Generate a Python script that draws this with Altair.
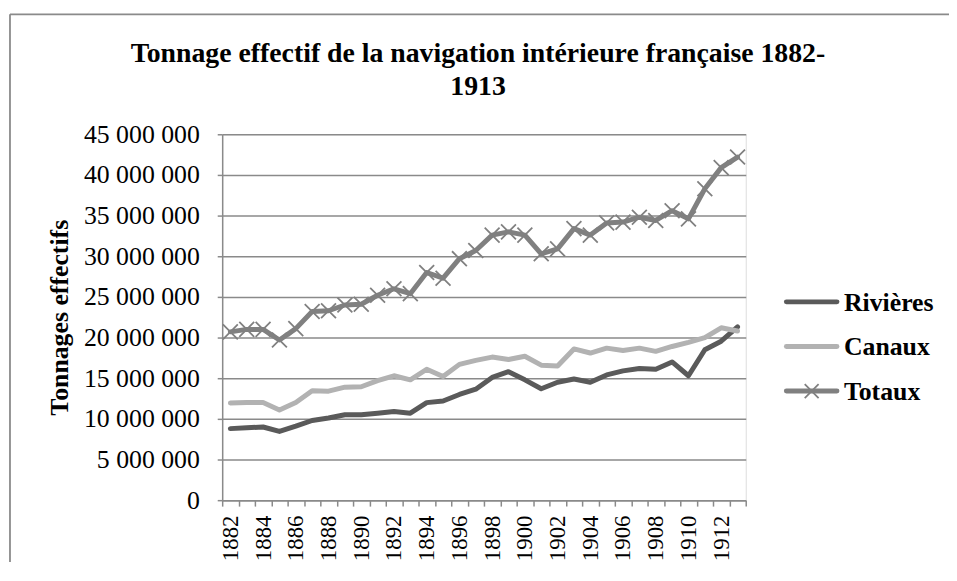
import altair as alt
import pandas as pd

years = list(range(1882, 1914))
rivieres = [8.8, 8.9, 9.0, 8.45, 9.1, 9.8, 10.1, 10.5, 10.5, 10.7, 10.9, 10.7, 12.0, 12.2, 13.0, 13.65,
            15.1, 15.8, 14.8, 13.7, 14.5, 14.9, 14.5, 15.4, 15.9, 16.2, 16.1, 17.0, 15.3, 18.5, 19.55, 21.3]
canaux = [11.95, 12.0, 12.0, 11.1, 12.0, 13.45, 13.4, 13.9, 13.95, 14.7, 15.3, 14.8, 16.1, 15.2, 16.7, 17.2,
          17.6, 17.3, 17.7, 16.6, 16.5, 18.6, 18.1, 18.7, 18.4, 18.7, 18.3, 18.9, 19.4, 20.0, 21.2, 20.8]
totaux = [20.7, 21.0, 21.0, 19.7, 21.1, 23.2, 23.3, 24.0, 24.1, 25.2, 26.0, 25.4, 28.0, 27.3, 29.7, 30.7,
          32.6, 33.0, 32.6, 30.3, 30.9, 33.4, 32.6, 34.1, 34.2, 34.8, 34.4, 35.6, 34.6, 38.3, 40.9, 42.2]
series = ["Rivières", "Canaux", "Totaux"]
colors = ["#5a5a5a", "#b2b2b2", "#808080"]
y_ticks = [0, 5e6, 10e6, 15e6, 20e6, 25e6, 30e6, 35e6, 40e6, 45e6]
title_lines = ["Tonnage effectif de la navigation intérieure française 1882-", "1913"]
y_title = "Tonnages effectifs"

rows = []
for name, vals in zip(series, [rivieres, canaux, totaux]):
    for yr, v in zip(years, vals):
        rows.append({"Année": yr, "Série": name, "Tonnage": v * 1e6, "ordre": series.index(name)})
df = pd.DataFrame(rows)
leg_df = pd.DataFrame({"Série": series})

FONT = "Liberation Serif"
GRAY = "#8a8a8a"
X_PATH = "M-1,-1L1,1M-1,1L1,-1"

color_scale = alt.Scale(domain=series, range=colors)

x_enc = alt.X("Année:O", scale=alt.Scale(type="band", paddingInner=0, paddingOuter=0),
              axis=alt.Axis(title=None, labelAngle=-90, labelFontSize=23, labelFont=FONT,
                            labelColor="black", labelPadding=9, tickBand="extent", tickSize=6,
                            tickColor=GRAY, domainColor=GRAY, domainWidth=1.5, tickWidth=1.5,
                            grid=False, labelOverlap=False,
                            labelExpr="datum.value % 2 === 0 ? datum.label : ''"))
y_enc = alt.Y("Tonnage:Q", scale=alt.Scale(domain=[0, 45e6], nice=False),
              axis=alt.Axis(values=y_ticks, title=y_title, titleFont=FONT, titleFontSize=26,
                            titleFontWeight="bold", titleColor="black", titleAngle=-90,
                            titleX=-164, titleY=184.5, titleAlign="center", titleBaseline="middle",
                            labelFont=FONT, labelFontSize=26, labelColor="black", labelPadding=18,
                            labelExpr="replace(format(datum.value, ','), regexp(',', 'g'), ' ')",
                            tickSize=5, tickColor=GRAY, domainColor=GRAY, domainWidth=1.5,
                            tickWidth=1.5, gridColor=GRAY, gridWidth=1.5))

base = alt.Chart(df)
lines = base.mark_line(strokeWidth=5, strokeCap="round", strokeJoin="round").encode(
    x=x_enc, y=y_enc,
    color=alt.Color("Série:N", scale=color_scale, sort=series, legend=None),
    order=alt.Order("ordre:Q"),
    detail="Série:N")
pts = base.transform_filter(alt.datum["Série"] == "Totaux").mark_point(
    shape=X_PATH, size=225, filled=False, strokeWidth=1.8, opacity=1).encode(
    x=x_enc, y=y_enc, color=alt.Color("Série:N", scale=color_scale, legend=None))

one = pd.DataFrame({"k": [0]})
border_top = alt.Chart(one).mark_rule(color="#8a8a8a", strokeWidth=1.8).encode(
    x=alt.value(-214), x2=alt.value(733), y=alt.value(-121))
border_left = alt.Chart(one).mark_rule(color="#8a8a8a", strokeWidth=1.8).encode(
    x=alt.value(-214), y=alt.value(-121), y2=alt.value(700))
title = alt.Chart(one).mark_text(
    text=title_lines, font=FONT, fontSize=28, fontWeight="bold", color="black",
    align="center", baseline="alphabetic", lineHeight=33).encode(
    x=alt.value(258), y=alt.value(-73))

main = alt.layer(border_top, border_left, title, lines, pts)

# manual legend
leg_y = alt.Y("Série:N", sort=series, axis=None,
              scale=alt.Scale(type="point", domain=series, range=[169, 259], padding=0))
leg_base = alt.Chart(leg_df)
leg_lines = leg_base.mark_rule(strokeWidth=5, strokeCap="round").encode(
    x=alt.value(569), x2=alt.value(620), y=leg_y,
    color=alt.Color("Série:N", scale=color_scale, legend=None))
leg_x = leg_base.transform_filter(alt.datum["Série"] == "Totaux").mark_point(
    shape=X_PATH, size=196, filled=False, strokeWidth=1.8, opacity=1).encode(
    x=alt.value(594.5), y=leg_y, color=alt.Color("Série:N", scale=color_scale, legend=None))
leg_text = leg_base.mark_text(align="left", baseline="middle", font=FONT, fontSize=26,
                              fontWeight="bold", color="black", dy=1).encode(
    x=alt.value(627), y=leg_y, text="Série:N")
legend = alt.layer(leg_lines, leg_x, leg_text)

chart = alt.layer(main, legend).resolve_scale(y="independent").properties(
    width=528, height=369,
    autosize=alt.AutoSizeParams(type="none"),
    padding={"left": 216, "top": 125, "right": 205, "bottom": 60},
).configure_view(stroke=None).configure(background="white")

chart.save("out.html", embed_options={"renderer": "svg", "actions": False})
